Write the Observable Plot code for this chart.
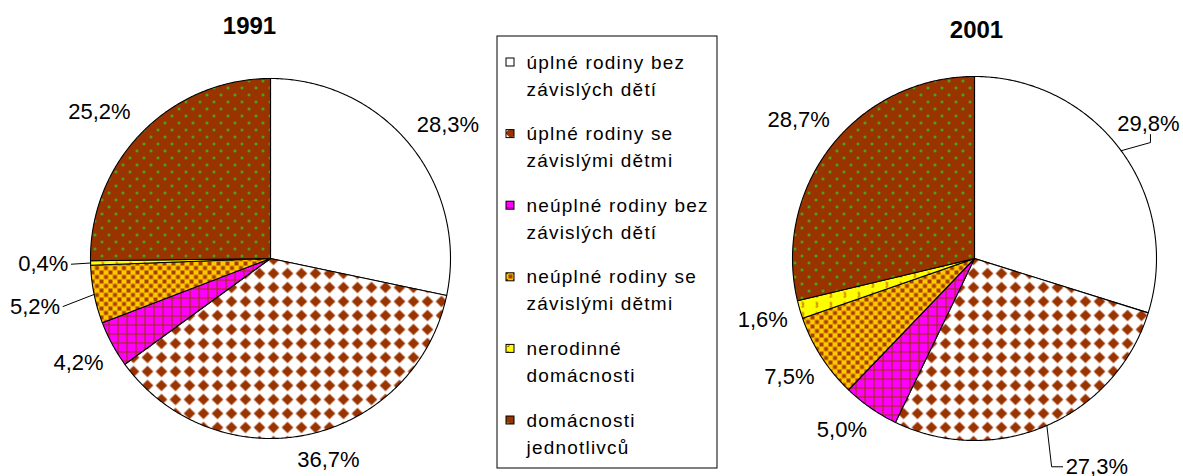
<!DOCTYPE html>
<html><head><meta charset="utf-8">
<script src="https://cdn.jsdelivr.net/npm/d3@7"></script>
<script src="https://cdn.jsdelivr.net/npm/@observablehq/plot@0.6"></script>
<style>
html,body{margin:0;padding:0;background:#fff;overflow:hidden}
#defs{position:absolute;left:0;top:0;width:0;height:0;overflow:hidden}
</style></head><body>
<svg id="defs" width="0" height="0">
<defs>
<pattern id="pat0" patternUnits="userSpaceOnUse" width="14" height="14"><rect width="14" height="14" fill="#ffffff"/></pattern>
<pattern id="pat1" patternUnits="userSpaceOnUse" width="14" height="14"><rect width="14" height="14" fill="#ffffff"/><path d="M7 1.2L12.8 7L7 12.8L1.2 7Z" fill="#993300"/></pattern>
<pattern id="pat2" patternUnits="userSpaceOnUse" width="9" height="9"><rect width="9" height="9" fill="#ff00ff"/><path d="M0 0.5H9M0.5 0V9" stroke="#993300" stroke-width="1.2"/></pattern>
<pattern id="pat3" patternUnits="userSpaceOnUse" width="9" height="9"><rect width="9" height="9" fill="#ffc800"/><rect x="0" y="0" width="4" height="4" fill="#a63f00"/><rect x="4.5" y="4.5" width="4" height="4" fill="#a63f00"/></pattern>
<pattern id="pat4" patternUnits="userSpaceOnUse" width="14" height="10"><rect width="14" height="10" fill="#ffff00"/><path d="M3 2h2v1.5h-1v1h1v2h-2" fill="none" stroke="#c06000" stroke-width="1"/></pattern>
<pattern id="pat5" patternUnits="userSpaceOnUse" width="14" height="14"><rect width="14" height="14" fill="#993300"/><circle cx="3.5" cy="3.5" r="1.2" fill="#22dd22"/><circle cx="10.5" cy="10.5" r="1.2" fill="#22dd22"/></pattern>
</defs>
</svg>
<div id="chart"></div>
<script>
// ---- data ----
const categories = [
  "úplné rodiny bez závislých dětí",
  "úplné rodiny se závislými dětmi",
  "neúplné rodiny bez závislých dětí",
  "neúplné rodiny se závislými dětmi",
  "nerodinné domácnosti",
  "domácnosti jednotlivců"
];
const legendLines = [
  ["úplné rodiny bez", "závislých dětí"],
  ["úplné rodiny se", "závislými dětmi"],
  ["neúplné rodiny bez", "závislých dětí"],
  ["neúplné rodiny se", "závislými dětmi"],
  ["nerodinné", "domácnosti"],
  ["domácnosti", "jednotlivců"]
];
const years = ["1991", "2001"];
const values1991 = [28.3, 36.7, 4.2, 5.2, 0.4, 25.2];
const values2001 = [29.8, 27.3, 5.0, 7.5, 1.6, 28.7];

// ---- layout ----
const W = 1183, H = 476;
const FONT = "'Liberation Sans', Arial, Helvetica, sans-serif";
const pies = [
  {year: years[0], values: values1991, cx: 270, cy: 258, r: 180, tx: 249, ty: 26,
   adj: [{da: 2}, {da: -4}, {}, {extra: 22, leader: "side"}, {extra: 10, leader: "side"}, {da: -4, extra: 4}]},
  {year: years[1], values: values2001, cx: 974, cy: 258, r: 182, tx: 976, ty: 30,
   adj: [{da: -1.5, extra: -4, leader: "up"}, {da: -7, extra: 24, leader: "left"}, {da: 3}, {}, {}, {}]}
];
const legend = {x1: 497, x2: 717, y1: 36, y2: 468, swX: 510, sw: 8, textX: 526, first: 62, step: 71.6, line: 27};

const canvas = document.createElement("canvas");
const ctx = canvas.getContext("2d");
ctx.font = "22px " + FONT;
const fmt = v => v.toFixed(1).replace(".", ",") + "%";

const marks = [];
const labels = [];
const leaders = [];
const rad = Math.PI / 180;

for (const p of pies) {
  const arcs = d3.pie().sort(null).value(d => d)(p.values);
  arcs.forEach((a, i) => {
    const pts = [{x: p.cx, y: p.cy}];
    const n = Math.max(2, Math.ceil((a.endAngle - a.startAngle) / (0.5 * rad)));
    for (let k = 0; k <= n; k++) {
      const t = a.startAngle + (a.endAngle - a.startAngle) * k / n;
      pts.push({x: p.cx + p.r * Math.sin(t), y: p.cy - p.r * Math.cos(t)});
    }
    pts.push({x: p.cx, y: p.cy});
    marks.push(Plot.line(pts, {x: "x", y: "y", fill: `url(#pat${i})`, stroke: "#000", strokeWidth: 1.1, curve: "linear"}));

    // label
    const adj = p.adj[i] || {};
    const mid = (a.startAngle + a.endAngle) / 2;
    const th = mid + (adj.da || 0) * rad;
    const text = fmt(a.data);
    const w = ctx.measureText(text).width, h = 18;
    const s = Math.sin(th), c = Math.cos(th);
    const dist = p.r + 12 + Math.abs(s) * w / 2 + Math.abs(c) * h / 2 + (adj.extra || 0);
    const lx = p.cx + s * dist, ly = p.cy - c * dist;
    labels.push({x: lx, y: ly, text});
    if (adj.leader) {
      const ex = p.cx + p.r * Math.sin(mid), ey = p.cy - p.r * Math.cos(mid);
      let path;
      if (adj.leader === "side") {
        path = [{x: ex, y: ey}, {x: lx + (s > 0 ? -1 : 1) * (w / 2 + 3), y: ly}];
      } else if (adj.leader === "up") {
        path = [{x: ex, y: ey}, {x: lx + 2, y: ly + h / 2 + 10}, {x: lx + 2, y: ly + h / 2 + 2}];
      } else {
        path = [{x: ex, y: ey}, {x: lx - w / 2 - 14, y: ly}, {x: lx - w / 2 - 3, y: ly}];
      }
      leaders.push(path);
    }
  });
}

// legend box
marks.unshift(Plot.rect([legend], {x1: "x1", x2: "x2", y1: "y1", y2: "y2", fill: "#fff", stroke: "#000", strokeWidth: 1}));
categories.forEach((cat, i) => {
  const cy = legend.first + i * legend.step;
  marks.push(Plot.rect([{cat, x1: legend.swX - legend.sw / 2, x2: legend.swX + legend.sw / 2, y1: cy - legend.sw / 2, y2: cy + legend.sw / 2}],
    {x1: "x1", x2: "x2", y1: "y1", y2: "y2", fill: `url(#pat${i})`, stroke: "#000", strokeWidth: 1, inset: 0}));
});
const legendText = legendLines.flatMap((lines, i) => lines.map((t, j) => ({t, y: legend.first + i * legend.step + j * legend.line})));
marks.push(Plot.text(legendText, {x: () => legend.textX, y: "y", text: "t", textAnchor: "start", lineAnchor: "middle", fontSize: 19, fontFamily: FONT, fill: "#000"}));

for (const path of leaders) marks.push(Plot.line(path, {x: "x", y: "y", stroke: "#000", strokeWidth: 1}));
marks.push(Plot.text(labels, {x: "x", y: "y", text: "text", textAnchor: "middle", lineAnchor: "middle", fontSize: 22, fontFamily: FONT, fill: "#000"}));
marks.push(Plot.text(pies, {x: "tx", y: "ty", text: "year", textAnchor: "middle", lineAnchor: "middle", fontSize: 24, fontWeight: "bold", fontFamily: "'Liberation Sans Narrow', " + FONT, fill: "#000"}));

const svg = Plot.plot({
  width: W, height: H, margin: 0,
  x: {domain: [0, W], range: [0, W], axis: null},
  y: {domain: [0, H], range: [0, H], axis: null},
  style: {background: "#fff", overflow: "visible"},
  marks
});
d3.select(svg).selectAll('g[font-size="19"]').attr("letter-spacing", "1.2");
document.getElementById("chart").appendChild(svg);
</script>
</body></html>
